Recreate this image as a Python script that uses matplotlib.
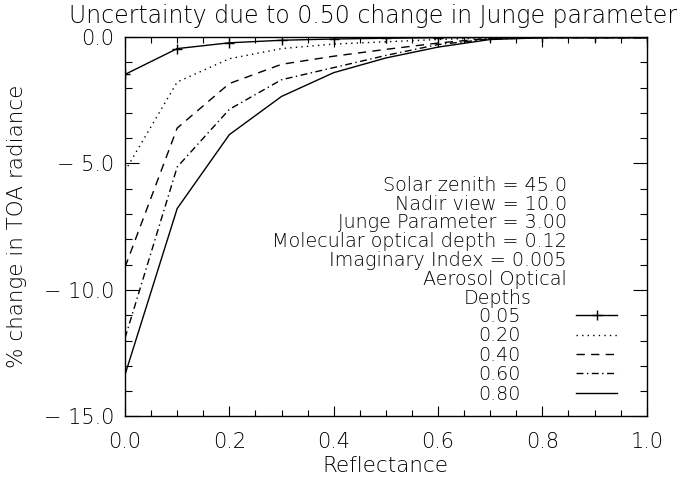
import matplotlib
matplotlib.use("Agg")
import matplotlib.pyplot as plt
from matplotlib.ticker import MultipleLocator

plt.rcParams['font.family'] = ['DejaVu Sans']

reflectance = [0.0, 0.1, 0.2, 0.3, 0.4, 0.5, 0.6, 0.7, 0.8, 0.9, 1.0]
aod_labels = ["0.05", "0.20", "0.40", "0.60", "0.80"]
tau_005 = [-1.48, -0.46, -0.23, -0.13, -0.08, -0.05, -0.03, -0.02, -0.02, -0.02, -0.02]
tau_020 = [-5.30, -1.78, -0.86, -0.46, -0.28, -0.19, -0.10, -0.03, -0.02, -0.02, -0.03]
tau_040 = [-9.10, -3.60, -1.84, -1.08, -0.76, -0.49, -0.24, -0.05, -0.02, -0.02, -0.03]
tau_060 = [-11.90, -5.14, -2.86, -1.69, -1.21, -0.73, -0.30, -0.08, -0.03, -0.03, -0.03]
tau_080 = [-13.35, -6.78, -3.86, -2.35, -1.41, -0.83, -0.40, -0.10, -0.03, -0.03, -0.03]
series = [tau_005, tau_020, tau_040, tau_060, tau_080]

info_lines = ["Solar zenith = 45.0", "Nadir view = 10.0", "Junge Parameter = 3.00",
              "Molecular optical depth = 0.12", "Imaginary Index = 0.005", "Aerosol Optical"]

styles = [dict(ls='-', marker='+', ms=7, mew=1.0),
          dict(ls=(0, (1, 3))),
          dict(ls=(0, (6, 4.5))),
          dict(ls=(0, (5, 2.5, 1, 2.5))),
          dict(ls='-')]

TXT = dict(fontweight='light')

fig = plt.figure(figsize=(6.88, 4.79), dpi=100)
ax = fig.add_axes([0.1817, 0.1305, 0.7583, 0.7923])

for vals, lab, st in zip(series, aod_labels, styles):
    ax.plot(reflectance, vals, color='black', lw=1.0, label=lab, **st)

ax.set_xlim(0, 1)
ax.set_ylim(-15, 0)
ax.xaxis.set_major_locator(MultipleLocator(0.2))
ax.xaxis.set_minor_locator(MultipleLocator(0.05))
ax.yaxis.set_major_locator(MultipleLocator(5))
ax.yaxis.set_minor_locator(MultipleLocator(1))
ax.xaxis.set_major_formatter(matplotlib.ticker.FormatStrFormatter('%.1f'))
ax.yaxis.set_major_formatter(matplotlib.ticker.FuncFormatter(lambda v, p: ('%.1f' % v).replace('-', '\u2212 ')))
ax.tick_params(which='both', direction='in', top=True, right=True, width=0.8, labelsize=15)
ax.tick_params(axis='x', which='major', length=7, pad=11)
ax.tick_params(axis='x', which='minor', length=4)
ax.tick_params(axis='y', which='major', length=10, pad=8)
ax.tick_params(axis='y', which='minor', length=5)
for lbl in ax.get_xticklabels() + ax.get_yticklabels():
    lbl.set_fontweight('light')
for s in ax.spines.values():
    s.set_linewidth(1.0)

ax.set_title("Uncertainty due to 0.50 change in Junge parameter", fontsize=17, pad=10,
             x=(373 - 125) / 521.7, **TXT)
ax.set_xlabel("Reflectance", fontsize=15.5, labelpad=3, **TXT)
ax.set_ylabel("% change in TOA radiance", fontsize=15.5, labelpad=12, **TXT)

tx = (566.7 - 125) / 521.7
y0 = (416.6 - 185) / 380.0
dy = 18.85 / 380.0
for i, line in enumerate(info_lines):
    ax.text(tx, y0 - i * dy, line, transform=ax.transAxes, ha='right', va='center',
            fontsize=13.8, **TXT)
ax.text((498 - 125) / 521.7, y0 - 6 * dy, "Depths", transform=ax.transAxes,
        ha='center', va='center', fontsize=13.8, **TXT)

leg = ax.legend(loc='upper left', bbox_to_anchor=((478 - 125) / 521.7, (416.6 - 307) / 380.0),
                frameon=False, markerfirst=False, prop=dict(size=13.8, weight='light'),
                handlelength=2.15, handletextpad=2.9, labelspacing=0.02, borderpad=0,
                borderaxespad=0)

fig.savefig("out.png", dpi=100)
